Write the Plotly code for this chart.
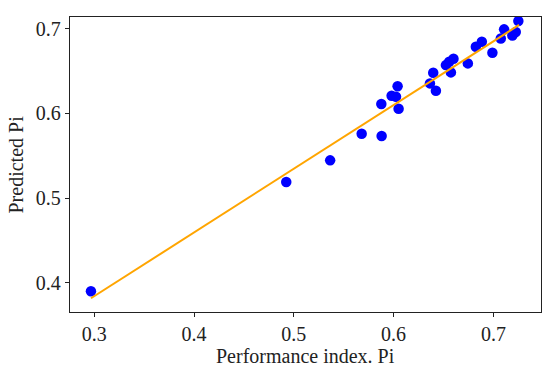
import plotly.graph_objects as go

actual_pi = [0.2967, 0.4924, 0.5364, 0.568, 0.588, 0.5877, 0.598, 0.6024, 0.604, 0.605,
             0.6364, 0.6397, 0.6424, 0.6524, 0.6557, 0.6574, 0.66, 0.6744, 0.6824, 0.6884,
             0.699, 0.7074, 0.7107, 0.719, 0.7224, 0.725]
predicted_pi = [0.390, 0.519, 0.5445, 0.576, 0.5733, 0.611, 0.6208, 0.6196, 0.632, 0.6055,
                0.6354, 0.6479, 0.6267, 0.657, 0.661, 0.6484, 0.6645, 0.659, 0.6786, 0.6845,
                0.6716, 0.6885, 0.6992, 0.692, 0.696, 0.709]
fit_x = [0.2967, 0.7257]
fit_y = [0.3816, 0.7044]
x_title = "Performance index. Pi"
y_title = "Predicted Pi"

fig = go.Figure()
fig.add_trace(go.Scatter(x=actual_pi, y=predicted_pi, mode="markers",
                         marker=dict(color="#0000FF", size=10.5, line=dict(width=0)),
                         showlegend=False, hoverinfo="skip"))
fig.add_trace(go.Scatter(x=fit_x, y=fit_y, mode="lines",
                         line=dict(color="#FFA500", width=2), showlegend=False,
                         hoverinfo="skip"))

font = dict(family="Liberation Serif, Times New Roman, serif", size=20, color="#222")
fig.update_layout(
    width=550, height=371,
    margin=dict(l=70, r=9, t=17, b=59),
    paper_bgcolor="white", plot_bgcolor="white",
    font=font,
    hovermode=False,
    xaxis=dict(range=[0.2757, 0.7477], tickvals=[0.3, 0.4, 0.5, 0.6, 0.7],
               ticktext=["0.3", "0.4", "0.5", "0.6", "0.7"],
               showgrid=False, zeroline=False, showline=True, linecolor="#222",
               linewidth=1.3, mirror=True, ticks="outside", ticklen=4, tickcolor="#222",
               automargin=False),
    yaxis=dict(range=[0.3654, 0.7138], tickvals=[0.4, 0.5, 0.6, 0.7],
               ticktext=["0.4", "0.5", "0.6", "0.7"],
               showgrid=False, zeroline=False, showline=True, linecolor="#222",
               linewidth=1.3, mirror=True, ticks="outside", ticklen=4, tickcolor="#222",
               automargin=False),
    annotations=[
        dict(text=x_title, xref="paper", yref="paper", x=0.5, y=0, yshift=-44,
             xanchor="center", yanchor="middle", showarrow=False, font=font),
        dict(text=y_title, xref="paper", yref="paper", x=0, y=0.5, xshift=-55,
             xanchor="center", yanchor="middle", textangle=-90, showarrow=False, font=font),
    ],
)
fig.write_html("out.html", config={"displayModeBar": False},
               post_script="document.body.style.margin='0';")
